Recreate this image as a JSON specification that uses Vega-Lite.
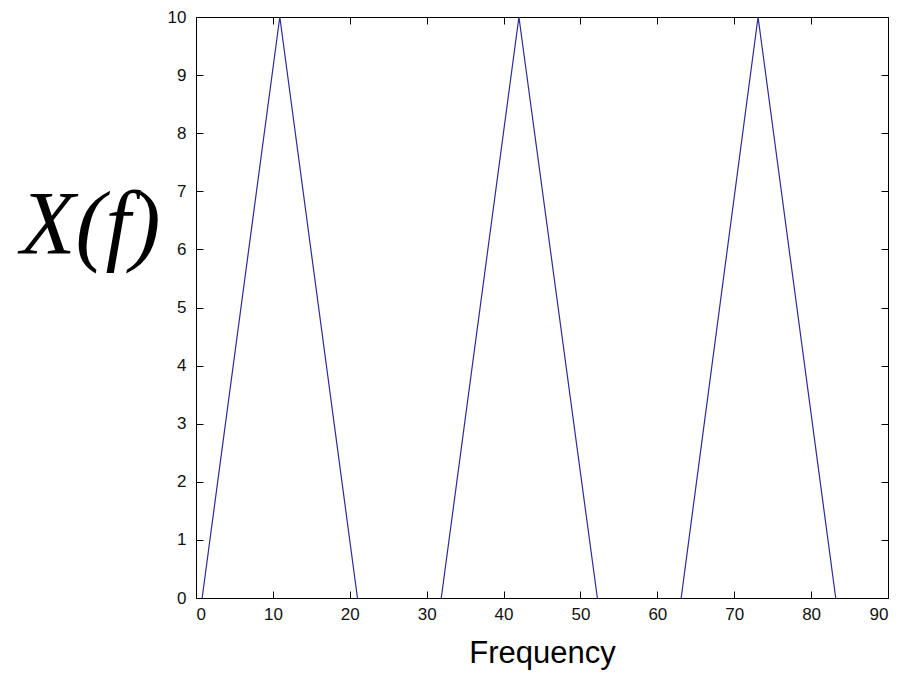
{
  "$schema": "https://vega.github.io/schema/vega-lite/v6.json",
  "width": 692,
  "height": 581,
  "autosize": {"type": "none"},
  "padding": {"left": 196, "top": 17, "right": 26, "bottom": 76},
  "background": "white",
  "config": {
    "view": {"stroke": "#000000", "strokeWidth": 1},
    "axis": {
      "grid": false,
      "domain": false,
      "tickColor": "#000000",
      "tickSize": -7,
      "labelFont": "Liberation Sans",
      "labelFontSize": 17,
      "labelColor": "#111111"
    }
  },
  "data": {
    "values": [
      {"seg": "a", "f": 0.8, "X": 0},
      {"seg": "a", "f": 10.9, "X": 10},
      {"seg": "a", "f": 21.0, "X": 0},
      {"seg": "b", "f": 31.9, "X": 0},
      {"seg": "b", "f": 42.0, "X": 10},
      {"seg": "b", "f": 52.2, "X": 0},
      {"seg": "c", "f": 63.1, "X": 0},
      {"seg": "c", "f": 73.1, "X": 10},
      {"seg": "c", "f": 83.2, "X": 0}
    ]
  },
  "layer": [
    {
      "mark": {"type": "line", "color": "#2b2b9b", "strokeWidth": 1.2},
      "encoding": {
        "detail": {"field": "seg", "type": "nominal"},
        "x": {
          "field": "f", "type": "quantitative",
          "scale": {"domain": [0, 90], "nice": false, "zero": false},
          "axis": {
            "orient": "bottom",
            "values": [0, 10, 20, 30, 40, 50, 60, 70, 80, 90],
            "labelPadding": 15,
            "title": "Frequency",
            "titleFont": "Liberation Sans",
            "titleFontSize": 31,
            "titleFontWeight": "normal",
            "titleColor": "#000000",
            "titlePadding": 16
          }
        },
        "y": {
          "field": "X", "type": "quantitative",
          "scale": {"domain": [0, 10], "nice": false},
          "axis": {
            "orient": "left",
            "values": [0, 1, 2, 3, 4, 5, 6, 7, 8, 9, 10],
            "labelPadding": 17,
            "title": "X(f)",
            "titleFont": "Liberation Serif",
            "titleFontStyle": "italic",
            "titleFontWeight": "normal",
            "titleFontSize": 90,
            "titleColor": "#000000",
            "titleAngle": 0,
            "titleAlign": "left",
            "titleBaseline": "alphabetic",
            "titleX": -176,
            "titleY": 236
          }
        }
      }
    },
    {
      "mark": {"type": "line", "strokeOpacity": 0},
      "encoding": {
        "detail": {"field": "seg", "type": "nominal"},
        "x": {
          "field": "f", "type": "quantitative",
          "scale": {"domain": [0, 90], "nice": false, "zero": false},
          "axis": {"orient": "top", "values": [0, 10, 20, 30, 40, 50, 60, 70, 80, 90], "labels": false, "title": null}
        },
        "y": {
          "field": "X", "type": "quantitative",
          "scale": {"domain": [0, 10], "nice": false},
          "axis": {"orient": "right", "values": [0, 1, 2, 3, 4, 5, 6, 7, 8, 9, 10], "labels": false, "title": null}
        }
      }
    }
  ],
  "resolve": {"axis": {"x": "independent", "y": "independent"}}
}
